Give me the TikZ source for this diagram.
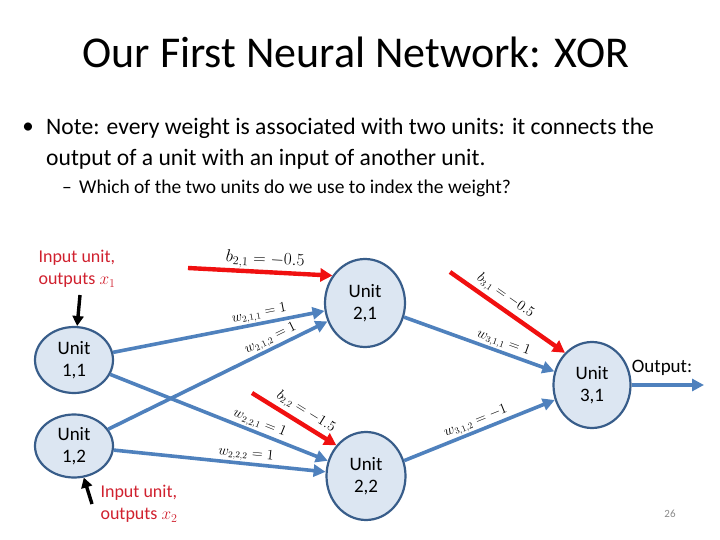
\documentclass[tikz,border=0pt]{standalone}
\usepackage{fontspec}
\setmainfont{Carlito}
\usetikzlibrary{arrows.meta,shapes.geometric}
\definecolor{unitfill}{HTML}{DCE6F2}
\definecolor{unitline}{HTML}{385D8A}
\definecolor{edgeblue}{HTML}{4F81BD}
\definecolor{biasred}{HTML}{F01010}
\definecolor{notered}{HTML}{D0202E}
\definecolor{pagegrey}{HTML}{8A8A8A}
\tikzset{
  unit/.style={ellipse,draw=unitline,fill=unitfill,line width=2.2pt,align=center,
    inner sep=0pt,font=\fontsize{19}{22}\selectfont},
  wt/.style={draw=edgeblue,line width=3.6pt,-{Triangle[length=12pt,width=12pt]}},
  bias/.style={draw=biasred,line width=4.4pt,-{Triangle[length=12pt,width=13pt]}},
  feed/.style={draw=black,line width=3.4pt,-{Triangle[length=10pt,width=11pt]}},
  wlab/.style={sloped,above,inner sep=1pt,font=\fontsize{13.5}{15}\selectfont},
  inlab/.style={notered,align=left,anchor=west,font=\fontsize{18}{22}\selectfont}}
\begin{document}
\begin{tikzpicture}[x=1pt,y=-1pt]
\useasboundingbox (0,0) rectangle (720,540);
% title and notes
\node (title) at (356,52) {\fontsize{44}{52}\selectfont Our First Neural Network: XOR};
\node (dot) at (28,128) {\fontsize{23}{30}\selectfont\textbullet};
\node[anchor=base west,inner sep=0pt] (note1) at (46,135) {\fontsize{23.6}{30}\selectfont Note: every weight is associated with two units: it connects the};
\node[anchor=base west,inner sep=0pt] (note2) at (46,166) {\fontsize{23.6}{30}\selectfont output of a unit with an input of another unit.};
\node[anchor=base west,inner sep=0pt] (dash) at (62,194) {\fontsize{19.5}{22}\selectfont --};
\node[anchor=base west,inner sep=0pt] (note3) at (79,194) {\fontsize{19.5}{22}\selectfont Which of the two units do we use to index the weight?};
% units
\node[unit,minimum width=78pt,minimum height=66pt] (u11) at (74,360) {Unit\\1,1};
\node[unit,minimum width=78pt,minimum height=63pt] (u12) at (74,446) {Unit\\1,2};
\node[unit,minimum width=80pt,minimum height=88pt] (u21) at (365,303) {Unit\\2,1};
\node[unit,minimum width=79pt,minimum height=88pt] (u22) at (366,476) {Unit\\2,2};
\node[unit,minimum width=77pt,minimum height=86pt] (u31) at (592,385) {Unit\\3,1};
% free ends
\coordinate (in1) at (80,295);
\coordinate (in2) at (92,504);
\coordinate (b21) at (188,268);
\coordinate (b22) at (252,393);
\coordinate (b31) at (450,272);
\coordinate (out) at (704,385);
% weights
\foreach \a/\b/\p/\t in {u11/u21/.7/{w_{2,1,1}=1},u12/u21/.76/{w_{2,1,2}=1},
  u11/u22/.67/{w_{2,2,1}=1},u12/u22/.62/{w_{2,2,2}=1},
  u21/u31/.64/{w_{3,1,1}=1},u22/u31/.5/{w_{3,1,2}=-1}}{
\draw[wt] (\a) -- node[wlab,pos=\p] {$\t$} (\b);}
% biases
\draw[bias] (b21) -- node[wlab,pos=.53,font=\fontsize{18}{20}\selectfont] {$b_{2,1}=-0.5$} (u21.140);
\foreach \s/\e/\p/\t in {b22/u22.134/.56/{b_{2,2}=-1.5},b31/u31.130/.42/{b_{3,1}=-0.5}}{
\draw[bias] (\s) -- node[wlab,pos=\p,yshift=2pt] {$\t$} (\e);}
% inputs and output
\draw[feed] (in1) -- (u11);
\draw[feed] (in2) -- (u12);
\draw[wt] (u31) -- (out);
\node[inlab] (x1lab) at (35,269) {Input unit,\\outputs $x_1$};
\node[inlab] (x2lab) at (97,504) {Input unit,\\outputs $x_2$};
\node[font=\fontsize{19}{22}\selectfont] (outlab) at (662,368) {Output:};
\node[pagegrey,font=\fontsize{11}{13}\selectfont] (page) at (670,514) {26};
\end{tikzpicture}
\end{document}
